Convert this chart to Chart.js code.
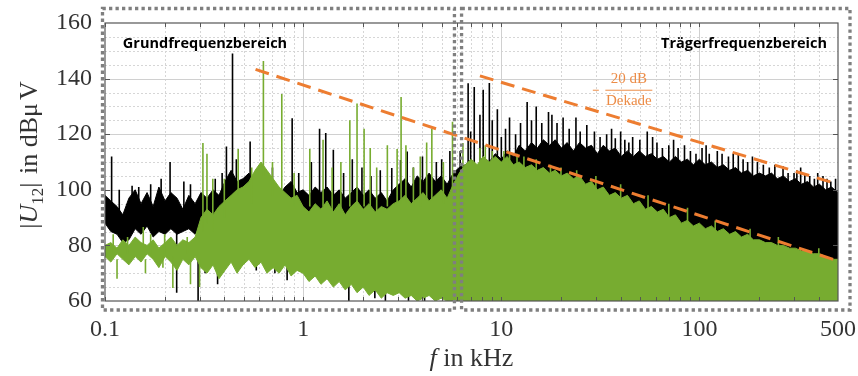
<!DOCTYPE html>
<html>
<head>
<meta charset="utf-8">
<script src="https://cdn.jsdelivr.net/npm/chart.js@4.4.1/dist/chart.umd.min.js"></script>
<style>
  html, body { margin: 0; padding: 0; background: #fff; }
  #wrap { width: 858px; height: 376px; }
</style>
</head>
<body>
<div id="wrap"><canvas id="spectrum" width="858" height="376"></canvas></div>
<script>
(function () {
  'use strict';

  /* Frequency grid in kHz, shared by both spectra */
  var freq = [
    0.100, 0.107, 0.115, 0.123, 0.132, 0.142, 0.152, 0.163, 0.175, 0.187,
    0.201, 0.215, 0.231, 0.247, 0.265, 0.285, 0.305, 0.327, 0.351, 0.376,
    0.403, 0.433, 0.464, 0.497, 0.533, 0.572, 0.613, 0.657, 0.705, 0.756,
    0.810, 0.869, 0.932, 0.999, 1.07, 1.15, 1.23, 1.32, 1.42, 1.52,
    1.63, 1.75, 1.87, 2.01, 2.15, 2.31, 2.48, 2.65, 2.85, 3.05,
    3.27, 3.51, 3.76, 4.03, 4.32, 4.64, 4.97, 5.33, 5.72, 6.13,
    6.57, 7.05, 7.56, 8.10, 8.69, 9.32, 10.0, 10.7, 11.5, 12.3,
    13.2, 14.2, 15.2, 16.3, 17.5, 18.7, 20.1, 21.5, 23.1, 24.8,
    26.6, 28.5, 30.5, 32.7, 35.1, 37.6, 40.3, 43.3, 46.4, 49.7,
    53.3, 57.2, 61.3, 65.7, 70.5, 75.6, 81.0, 86.9, 93.2, 99.9,
    107, 115, 123, 132, 142, 152, 163, 175, 187, 201,
    215, 231, 247, 265, 285, 305, 327, 351, 376, 403,
    433, 464, 500
  ];

  /* Black spectrum: upper / lower edge of the noise band (dBµV) */
  var blackHi = [
    98, 96, 94, 91, 97, 100, 95, 99, 94, 101,
    96, 99, 97, 93, 98, 95, 99, 97, 100, 98,
    103, 107, 103, 104, 106, 101, 99, 97, 100, 98,
    101, 103, 99, 100, 98, 101, 99, 101, 98, 100,
    97, 99, 101, 98, 100, 97, 99, 96, 100, 102,
    104, 101, 105, 103, 106, 103, 105, 102, 106, 108,
    109, 111, 108, 112, 110, 113, 111, 114, 112, 116,
    114, 117, 115, 118, 116, 118, 115, 117, 114, 117,
    115, 116, 113, 116, 114, 115, 112, 114, 112, 114,
    112, 113, 111, 112, 110, 112, 110, 111, 109, 111,
    109, 110, 108, 109, 107, 108, 106, 107, 105, 106,
    105, 106, 104, 105, 103, 104, 102, 103, 101, 102,
    100, 101, 99
  ];
  var blackLo = [
    88, 85, 84, 81, 82, 86, 84, 87, 83, 85,
    84, 86, 84, 85, 86, 84, 87, 85, 88, 86,
    89, 92, 86, 80, 82, 78, 80, 78, 80, 82,
    84, 86, 85, 88, 86, 89, 87, 88, 86, 89,
    87, 88, 86, 89, 87, 88, 86, 88, 87, 90,
    89, 91, 90, 92, 90, 93, 91, 94, 92, 96,
    60, 60, 60, 60, 60, 60, 60, 60, 60, 60,
    60, 60, 60, 60, 60, 60, 60, 60, 60, 60,
    60, 60, 60, 60, 60, 60, 60, 60, 60, 60,
    60, 60, 60, 60, 60, 60, 60, 60, 60, 60,
    60, 60, 60, 60, 60, 60, 60, 60, 60, 60,
    60, 60, 60, 60, 60, 60, 60, 60, 60, 60,
    60, 60, 60
  ];

  /* Green spectrum */
  var greenHi = [
    80, 81, 79, 82, 80, 83, 81, 80, 82, 79,
    81, 83, 80, 82, 81, 83, 90, 93, 91, 94,
    96, 98, 100, 101, 103, 107, 110, 107, 104, 101,
    99, 97, 98, 94, 92, 95, 93, 96, 92, 95,
    91, 94, 96, 93, 95, 92, 94, 93, 95, 96,
    98, 95, 97, 99, 96, 98, 100, 97, 102, 106,
    109, 111, 109, 112, 110, 112, 110, 112, 109, 110,
    108, 109, 107, 108, 106, 107, 105, 106, 104, 105,
    102, 103, 100, 101, 98, 99, 97, 98, 95, 96,
    93, 94, 92, 93, 90, 91, 88, 89, 87, 88,
    86, 87, 85, 86, 84, 85, 83, 84, 82, 82,
    81, 81, 80, 80, 79, 79, 78, 78, 77, 77,
    76, 75, 75
  ];
  var greenLo = [
    76, 74, 77, 75, 73, 76, 74, 77, 75, 72,
    76, 74, 71, 75, 73, 76, 72, 70, 73, 68,
    71, 74, 70, 73, 75, 72, 74, 70, 72, 70,
    73, 69, 71, 70, 67, 69, 66, 68, 65, 67,
    64, 66, 63, 65, 62, 64, 61, 63, 62, 63,
    61, 62, 60, 61, 62, 60, 61, 60, 60, 60,
    60, 60, 60, 60, 60, 60, 60, 60, 60, 60,
    60, 60, 60, 60, 60, 60, 60, 60, 60, 60,
    60, 60, 60, 60, 60, 60, 60, 60, 60, 60,
    60, 60, 60, 60, 60, 60, 60, 60, 60, 60,
    60, 60, 60, 60, 60, 60, 60, 60, 60, 60,
    60, 60, 60, 60, 60, 60, 60, 60, 60, 60,
    60, 60, 60
  ];

  /* Single spectral lines (freq kHz, from dB, to dB) */
  var blackSpikeF = [
    0.108, 0.118, 0.137, 0.148, 0.17, 0.192, 0.213, 0.25, 0.27, 0.36,
    0.39, 0.41, 0.44, 0.46, 0.54, 0.62, 0.7, 0.88, 0.95, 1.1,
    1.21, 1.30, 1.42, 1.6, 1.77, 1.98, 2.2, 2.45, 2.8, 3.1,
    3.35, 3.6, 4.0, 4.7, 5.0, 5.5, 6.2, 6.8, 7.0, 7.3,
    7.8, 8.1, 8.7, 9.0, 9.55, 10.0, 10.5, 11.0, 11.8, 12.5,
    13.5, 14.2, 15.0, 16.0, 17.3, 18.0, 19.1, 20.5, 22, 23.8,
    25, 27, 29.5, 31.5, 34, 36, 37.6, 40, 42, 44,
    46, 50, 54.5, 58, 61, 65, 70, 74, 78, 84,
    90, 96, 103, 108, 112, 123, 130, 140, 148, 157,
    166, 175, 185, 196, 210, 225, 240, 264, 280, 300,
    310, 324, 340, 360, 380, 395, 420, 440, 460, 486,
    0.126, 0.23, 0.295, 0.32, 0.37, 0.58, 0.72, 0.83, 1.7, 2.3,
    2.6, 3.4, 4.1
  ];
  var blackSpikeLo = [
    95, 90, 95, 90, 90, 95, 95, 92, 92, 94,
    95, 100, 100, 100, 100, 95, 95, 98, 96, 96,
    97, 97, 97, 96, 97, 97, 96, 96, 97, 100,
    100, 100, 100, 102, 100, 100, 104, 105, 106, 105,
    106, 105, 105, 108, 108, 110, 110, 110, 110, 110,
    110, 112, 112, 112, 112, 112, 112, 112, 112, 112,
    112, 112, 112, 112, 110, 110, 110, 110, 110, 110,
    110, 108, 108, 108, 108, 108, 108, 106, 106, 106,
    106, 104, 104, 104, 104, 104, 104, 104, 102, 102,
    102, 102, 100, 100, 100, 100, 98, 98, 98, 98,
    98, 98, 96, 96, 96, 96, 95, 95, 95, 95,
    74.7, 63, 60, 70, 66, 71, 70, 67.5, 60, 61,
    60, 60, 60
  ];
  var blackSpikeHi = [
    112, 100, 101.5, 101, 102, 104, 110, 103, 102, 104,
    106, 115.6, 149, 111, 117.4, 108, 108, 125.7, 106, 110,
    122, 120.4, 114.4, 106, 111, 108, 105, 107, 107.8, 110.7,
    113.8, 108, 112, 110, 111, 114, 114, 138.3, 121, 137,
    127, 136, 138.4, 125, 129, 119, 122, 126, 120, 124,
    131.6, 125, 130, 124, 128, 127, 124, 126, 122, 126,
    121, 123.3, 121, 119, 120, 122, 118.5, 121, 118, 117,
    119, 118, 121, 119, 117, 115, 116, 118, 115, 116,
    114, 113, 115, 116, 113, 114, 113, 112, 113, 112.5,
    111, 110, 112, 110, 109, 108, 109, 108.5, 106, 106,
    107, 108, 106, 105, 104, 106, 105, 104, 103, 104,
    85, 85, 86, 85, 85, 80, 80, 82, 70, 72,
    68, 66, 64
  ];

  var greenSpikeF = [
    0.11, 0.13, 0.156, 0.17, 0.2, 0.26, 0.312, 0.327, 0.35, 0.4,
    0.47, 0.55, 0.63, 0.7, 0.78, 0.9, 1.08, 1.26, 1.4, 1.55,
    1.72, 1.87, 2.03, 2.18, 2.35, 2.66, 2.98, 3.12, 3.3, 3.6,
    3.9, 4.2, 4.46, 5.1, 5.67, 6.4, 7.8, 8.3, 9.0, 10.3,
    11, 12, 13, 15, 17.7, 20, 24, 30, 40, 55,
    70, 87, 120, 180, 250, 400,
    0.115, 0.16, 0.196, 0.22, 0.27, 0.30
  ];
  var greenSpikeLo = [
    77, 77, 80, 77, 77, 77, 85, 88, 85, 90,
    98, 95, 105, 98, 100, 94, 94, 94, 92, 92,
    94, 94, 94, 94, 92, 94, 94, 95, 95, 94,
    94, 96, 96, 95, 98, 108, 110, 110, 110, 110,
    108, 108, 107, 106, 105, 104, 103, 100, 97, 93,
    90, 88, 85, 82, 79, 76,
    68, 70, 72, 64.7, 66, 65
  ];
  var greenSpikeHi = [
    84, 83, 86.6, 84, 84, 83, 116.8, 113, 104, 104,
    114.7, 108, 146.3, 110, 134.5, 106, 114.7, 118, 108, 110,
    125, 131, 122, 115, 108, 116, 114.7, 133.4, 116, 108,
    112, 117, 122, 110, 124.5, 116.8, 115, 116, 114, 114,
    113, 113, 112, 111, 109, 108, 107, 105, 102, 98,
    95, 93.5, 89, 86, 83, 79,
    75, 75, 76, 76, 75, 75
  ];

  /* -20 dB/Dekade guide lines */
  var guideUpperF = [7.8, 500];
  var guideUpperDb = [141, 102];
  var guideLowerF = [0.575, 500];
  var guideLowerDb = [143.3, 74.4];

  /* Axes */
  var xTicks = [0.1, 1, 10, 100, 500];
  var xTickLabels = ['0.1', '1', '10', '100', '500'];
  var yTicks = [60, 80, 100, 120, 140, 160];
  var regionSplitF = [5.8, 6.3];   // where the two dotted boxes meet

  var BLACK = '#000000';
  var GREEN = '#77ac30';
  var ORANGE = '#ed7d31';
  var SERIF = '"Liberation Serif", "Times New Roman", serif';

  function pts(xs, ys) {
    return xs.map(function (x, i) { return { x: x, y: ys[i] }; });
  }

  function lines(xs, lo, hi) {
    var out = [];
    xs.forEach(function (x, i) {
      out.push({ x: x, y: lo[i] }, { x: x, y: hi[i] }, { x: x, y: null });
    });
    return out;
  }

  function band(data, color, fill, order) {
    return {
      type: 'line', data: data, borderColor: color, backgroundColor: color,
      borderWidth: 1, pointRadius: 0, tension: 0, fill: fill, order: order
    };
  }

  /* Grid: solid majors, dotted minors */
  var gridPlugin = {
    id: 'grid',
    beforeDatasetsDraw: function (chart) {
      var ctx = chart.ctx, a = chart.chartArea;
      var xs = chart.scales.x, ys = chart.scales.y;
      ctx.save();
      ctx.lineWidth = 1;
      ctx.strokeStyle = '#d6d6d6';
      ctx.setLineDash([2, 2]);
      [0.1, 1, 10, 100].forEach(function (d) {
        for (var m = 2; m <= 9; m++) {
          var v = d * m;
          if (v >= 500) break;
          var px = Math.round(xs.getPixelForValue(v)) + 0.5;
          ctx.beginPath(); ctx.moveTo(px, a.top); ctx.lineTo(px, a.bottom); ctx.stroke();
        }
      });
      for (var y = 65; y < 160; y += 5) {
        if (y % 20 === 0) continue;
        var py = Math.round(ys.getPixelForValue(y)) + 0.5;
        ctx.beginPath(); ctx.moveTo(a.left, py); ctx.lineTo(a.right, py); ctx.stroke();
      }
      ctx.setLineDash([]);
      ctx.strokeStyle = '#d0d0d0';
      [1, 10, 100].forEach(function (v) {
        var px = Math.round(xs.getPixelForValue(v)) + 0.5;
        ctx.beginPath(); ctx.moveTo(px, a.top); ctx.lineTo(px, a.bottom); ctx.stroke();
      });
      [80, 100, 120, 140].forEach(function (v) {
        var py = Math.round(ys.getPixelForValue(v)) + 0.5;
        ctx.beginPath(); ctx.moveTo(a.left, py); ctx.lineTo(a.right, py); ctx.stroke();
      });
      ctx.restore();
    }
  };

  function drawPieces(ctx, parts) {
    var total = 0;
    parts.forEach(function (p) { ctx.font = p.f; p.w = ctx.measureText(p.t).width + (p.gap || 0); total += p.w; });
    var x = -total / 2;
    parts.forEach(function (p) {
      ctx.font = p.f;
      ctx.fillText(p.t, x, p.dy || 0);
      x += p.w;
    });
  }

  var decorPlugin = {
    id: 'decor',
    afterDatasetsDraw: function (chart) {
      var ctx = chart.ctx, a = chart.chartArea;
      var xs = chart.scales.x, ys = chart.scales.y;
      ctx.save();
      ctx.strokeStyle = '#555';
      ctx.lineWidth = 1.2;
      ctx.strokeRect(a.left, a.top, a.right - a.left, a.bottom - a.top);
      ctx.lineWidth = 1;
      [0.1, 1, 10, 100].forEach(function (d) {
        for (var m = 1; m <= 9; m++) {
          var v = d * m;
          if (v >= 500) break;
          var px = Math.round(xs.getPixelForValue(v)) + 0.5;
          ctx.beginPath();
          ctx.moveTo(px, a.top); ctx.lineTo(px, a.top + 4);
          ctx.moveTo(px, a.bottom); ctx.lineTo(px, a.bottom - 4);
          ctx.stroke();
        }
      });
      [80, 100, 120, 140].forEach(function (v) {
        var py = Math.round(ys.getPixelForValue(v)) + 0.5;
        ctx.beginPath();
        ctx.moveTo(a.left, py); ctx.lineTo(a.left + 5, py);
        ctx.moveTo(a.right, py); ctx.lineTo(a.right - 5, py);
        ctx.stroke();
      });
      ctx.restore();
    },
    afterDraw: function (chart) {
      var ctx = chart.ctx, a = chart.chartArea;
      var xs = chart.scales.x, ys = chart.scales.y;
      ctx.save();

      /* dotted region boxes */
      var split1 = xs.getPixelForValue(regionSplitF[0]);
      var split2 = xs.getPixelForValue(regionSplitF[1]);
      var top = a.top - 14.5, bottom = a.bottom + 9;
      ctx.strokeStyle = '#7f7f7f';
      ctx.lineWidth = 3.3;
      ctx.setLineDash([3.3, 3.2]);
      ctx.strokeRect(a.left - 2.5, top, split1 - a.left + 2.5, bottom - top);
      ctx.strokeRect(split2, top, a.right + 12 - split2, bottom - top);
      ctx.setLineDash([]);

      /* region titles */
      ctx.fillStyle = '#000';
      ctx.font = 'bold 14.5px "Open Sans", sans-serif';
      ctx.textAlign = 'center';
      ctx.textBaseline = 'middle';
      ctx.fillText('Grundfrequenzbereich', a.left + 100, a.top + 21);
      ctx.fillText('Trägerfrequenzbereich', a.right - 94, a.top + 21);

      /* slope annotation */
      var cx = xs.getPixelForValue(44), cy = ys.getPixelForValue(136);
      ctx.fillStyle = '#ec8c47';
      ctx.strokeStyle = '#ec8c47';
      ctx.font = '15px ' + SERIF;
      ctx.fillText('20 dB', cx, cy - 10.5);
      ctx.fillText('Dekade', cx, cy + 11);
      ctx.lineWidth = 1;
      ctx.beginPath();
      ctx.moveTo(cx - 23.5, cy + 0.5); ctx.lineTo(cx + 23.5, cy + 0.5);
      ctx.moveTo(cx - 36, cy + 0.5); ctx.lineTo(cx - 30, cy + 0.5);
      ctx.stroke();

      /* axis titles */
      ctx.fillStyle = '#333';
      ctx.textAlign = 'left';
      ctx.textBaseline = 'alphabetic';
      ctx.save();
      ctx.translate(37, (a.top + a.bottom) / 2 - 7);
      ctx.rotate(-Math.PI / 2);
      drawPieces(ctx, [
        { t: '|', f: '26px ' + SERIF },
        { t: 'U', f: 'italic 26px ' + SERIF },
        { t: '12', f: '17px ' + SERIF, dy: 6 },
        { t: '|', f: '26px ' + SERIF, gap: 2 },
        { t: ' in dB', f: '26px ' + SERIF },
        { t: 'μ', f: '26px ' + SERIF, gap: 3 },
        { t: 'V', f: '26px ' + SERIF }
      ]);
      ctx.restore();

      ctx.save();
      ctx.translate((a.left + a.right) / 2, 366);
      drawPieces(ctx, [
        { t: 'f', f: 'italic 26px ' + SERIF },
        { t: ' in kHz', f: '26px ' + SERIF }
      ]);
      ctx.restore();

      ctx.restore();
    }
  };

  new Chart(document.getElementById('spectrum'), {
    data: {
      datasets: [
        { type: 'line', data: pts(guideUpperF, guideUpperDb), borderColor: ORANGE, borderWidth: 3,
          borderDash: [14, 8], pointRadius: 0, fill: false, order: 0 },
        { type: 'line', data: pts(guideLowerF, guideLowerDb), borderColor: ORANGE, borderWidth: 3,
          borderDash: [14, 8], pointRadius: 0, fill: false, order: 0 },
        { type: 'line', data: lines(greenSpikeF, greenSpikeLo, greenSpikeHi), borderColor: GREEN,
          borderWidth: 1.6, pointRadius: 0, spanGaps: false, fill: false, order: 1 },
        band(pts(freq, greenHi), GREEN, '+1', 2),
        band(pts(freq, greenLo), GREEN, false, 2),
        { type: 'line', data: lines(blackSpikeF, blackSpikeLo, blackSpikeHi), borderColor: BLACK,
          borderWidth: 1.6, pointRadius: 0, spanGaps: false, fill: false, order: 3 },
        band(pts(freq, blackHi), BLACK, '+1', 4),
        band(pts(freq, blackLo), BLACK, false, 4)
      ]
    },
    options: {
      responsive: false,
      animation: false,
      events: [],
      devicePixelRatio: 1,
      layout: { padding: { top: 23, right: 20, left: 0, bottom: 0 } },
      plugins: { legend: { display: false }, tooltip: { enabled: false } },
      scales: {
        x: {
          type: 'logarithmic', min: 0.1, max: 500,
          grid: { display: false, drawTicks: false }, border: { display: false },
          afterBuildTicks: function (s) { s.ticks = xTicks.map(function (v) { return { value: v }; }); },
          afterFit: function (s) { s.height = 75; s.paddingLeft = 0; s.paddingRight = 0; },
          ticks: {
            autoSkip: false, maxRotation: 0, padding: 14, color: '#333',
            font: { family: SERIF, size: 24 },
            callback: function (v, i) { return xTickLabels[i]; }
          }
        },
        y: {
          type: 'linear', min: 60, max: 160,
          grid: { display: false, drawTicks: false }, border: { display: false },
          afterBuildTicks: function (s) { s.ticks = yTicks.map(function (v) { return { value: v }; }); },
          afterFit: function (s) { s.width = 105; s.paddingTop = 0; s.paddingBottom = 0; },
          ticks: {
            padding: 13, color: '#333',
            font: { family: SERIF, size: 24 },
            callback: function (v) { return String(v); }
          }
        }
      }
    },
    plugins: [gridPlugin, decorPlugin]
  });
})();
</script>
</body>
</html>
